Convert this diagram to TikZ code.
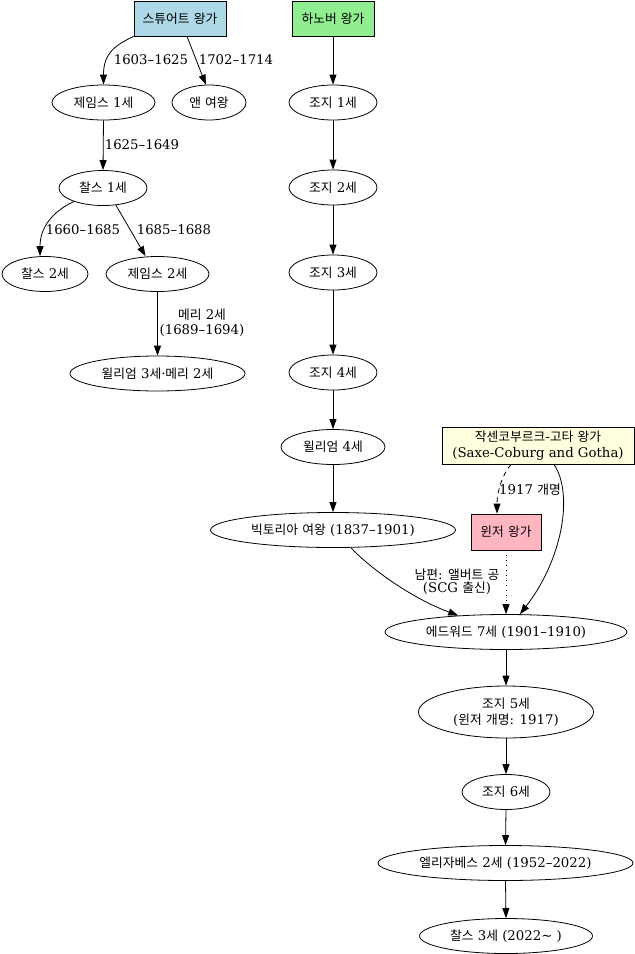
\documentclass[tikz,border=0pt]{standalone}
\usepackage{fontspec}
\setmainfont{DejaVu Serif}
\newfontfamily\krfont{Noto Sans CJK KR}[Scale=0.96]
\usetikzlibrary{arrows.meta,shapes.geometric}
\XeTeXinterchartokenstate=1
\newXeTeXintercharclass\HangulClass
\count255="AC00
\loop
  \XeTeXcharclass\count255=\HangulClass
  \ifnum\count255<"D7A3 \advance\count255 by 1 \repeat
\XeTeXinterchartoks 0 \HangulClass = {\begingroup\krfont}
\XeTeXinterchartoks 4095 \HangulClass = {\begingroup\krfont}
\XeTeXinterchartoks \HangulClass 0 = {\endgroup}
\XeTeXinterchartoks \HangulClass 4095 = {\endgroup}
\definecolor{stuartc}{HTML}{ADD8E6}
\definecolor{hanoverc}{HTML}{90EE90}
\definecolor{scgc}{HTML}{FFFFE0}
\definecolor{windsorc}{HTML}{FFB6C1}
\begin{document}
\begin{tikzpicture}[x=1pt,y=1pt,
  every node/.style={font=\fontsize{13.3}{16}\selectfont, inner sep=0pt, align=center},
  ell/.style={draw, ellipse, line width=0.8pt, minimum height=35, inner xsep=-30pt, inner ysep=-5pt},
  housebox/.style={draw, rectangle, line width=0.8pt, minimum height=35},
  arr/.style={-{Triangle[length=10pt,width=7pt]}, line width=0.8pt},
  lbl/.style={font=\fontsize{13.3}{15}\selectfont}]
\useasboundingbox (0,0) rectangle (635,-954);
% houses
\node[housebox, fill=stuartc, minimum width=92] (stuart) at (180,-18.5) {스튜어트 왕가};
\node[housebox, fill=hanoverc, minimum width=82] (hanover) at (333,-18.5) {하노버 왕가};
\node[housebox, fill=scgc, minimum width=192, minimum height=37] (scg) at (538,-445.5) {작센코부르크-고타 왕가\\(Saxe-Coburg and Gotha)};
\node[housebox, fill=windsorc, minimum width=70, minimum height=36] (windsor) at (506,-532) {윈저 왕가};
% Stuart side
\node[ell, minimum width=103] (james1) at (103.5,-102.5) {제임스 1세};
\node[ell, minimum width=74] (anne) at (209,-102.5) {앤 여왕};
\node[ell, minimum width=88] (charles1) at (103,-188) {찰스 1세};
\node[ell, minimum width=86] (charles2) at (45,-274) {찰스 2세};
\node[ell, minimum width=103] (james2) at (157.5,-274) {제임스 2세};
\node[ell, minimum width=175] (wm) at (157.5,-373.5) {윌리엄 3세·메리 2세};
% Hanover side
\node[ell, minimum width=88] (g1) at (333,-102.5) {조지 1세};
\node[ell, minimum width=88] (g2) at (333,-187.5) {조지 2세};
\node[ell, minimum width=88] (g3) at (333,-272.5) {조지 3세};
\node[ell, minimum width=88] (g4) at (333,-372.5) {조지 4세};
\node[ell, minimum width=104] (w4) at (333,-447) {윌리엄 4세};
\node[ell, minimum width=245] (vic) at (333,-530) {빅토리아 여왕 (1837–1901)};
% later line
\node[ell, minimum width=242] (ed7) at (506,-632) {에드워드 7세 (1901–1910)};
\node[ell, minimum width=175, minimum height=52] (g5) at (506,-712) {조지 5세\\(윈저 개명: 1917)};
\node[ell, minimum width=88] (g6) at (506,-792) {조지 6세};
\node[ell, minimum width=255] (eliz) at (505.5,-863) {엘리자베스 2세 (1952–2022)};
\node[ell, minimum width=173] (c3) at (506,-936) {찰스 3세 (2022\textasciitilde\ )};
% edges
\draw[arr] (stuart.south west) .. controls +(-19,-9) and +(0,31) .. (james1.north);
\draw[arr] ([xshift=7]stuart.south) -- (anne.100);
\draw[arr] (james1.south) -- (charles1.north);
\draw[arr] (charles1.205) .. controls +(-22,-10) and +(0,28) .. ([xshift=-5]charles2.north);
\draw[arr] (charles1.-53) -- ([xshift=-12]james2.north);
\draw[arr] (james2.south) -- (wm.north);
\draw[arr] (hanover.south) -- (g1.north);
\draw[arr] (g1.south) -- (g2.north);
\draw[arr] (g2.south) -- (g3.north);
\draw[arr] (g3.south) -- (g4.north);
\draw[arr] (g4.south) -- (w4.north);
\draw[arr] (w4.south) -- (vic.north);
\draw[arr] ([xshift=18]vic.south) .. controls +(19,-20) and +(-48,18) .. (ed7.161);
\draw[arr, dash pattern=on 5pt off 4pt] ([xshift=-27]scg.south) .. controls +(-10,-12) and +(0,20) .. ([xshift=-9]windsor.north);
\draw[arr] ([xshift=16]scg.south) .. controls +(20,-30) and +(42,54) .. ([xshift=14]ed7.north);
\draw[arr, dash pattern=on 1pt off 4pt] (windsor.south) -- (ed7.north);
\draw[arr] (ed7.south) -- (g5.north);
\draw[arr] (g5.south) -- (g6.north);
\draw[arr] (g6.south) -- (eliz.north);
\draw[arr] (eliz.south) -- (c3.north);
% edge labels
\node[lbl] (l1) at (151,-60) {1603–1625};
\node[lbl] (l2) at (236,-60) {1702–1714};
\node[lbl] (l3) at (142,-145) {1625–1649};
\node[lbl] (l4) at (83,-230) {1660–1685};
\node[lbl] (l5) at (174,-230) {1685–1688};
\node[lbl] (l6) at (202,-322.5) {메리 2세\\(1689–1694)};
\node[lbl] (l7) at (530,-490) {1917 개명};
\node[lbl, font=\fontsize{13.3}{13.5}\selectfont] (l8) at (457,-581.5) {남편: 앨버트 공\\(SCG 출신)};
\end{tikzpicture}
\end{document}
